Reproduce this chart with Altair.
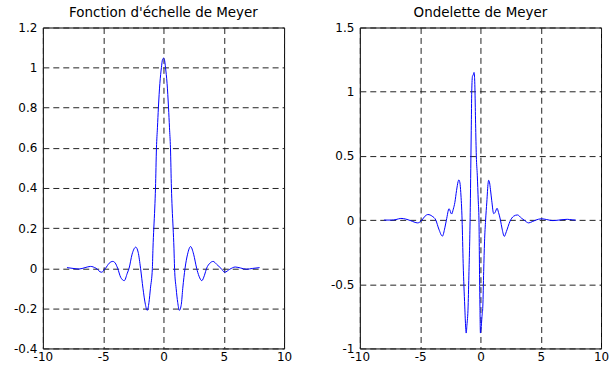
import altair as alt
import pandas as pd

# Meyer scaling function
phi_x = [-8.0, -7.5, -7.0, -6.5, -6.05, -5.6, -5.15, -4.8, -4.5, -4.2, -4.0, -3.8, -3.55, -3.25,
         -3.0, -2.85, -2.6, -2.3, -2.1, -1.9, -1.7, -1.5, -1.35, -1.2, -1.08, -0.92, -0.87, -0.8,
         -0.72, -0.66, -0.58, -0.5, -0.42, -0.3, -0.17, -0.08, 0.0, 0.08, 0.17, 0.3, 0.42, 0.5,
         0.58, 0.66, 0.72, 0.8, 0.87, 0.92, 1.05, 1.18, 1.32, 1.48, 1.6, 1.79, 2.0, 2.25, 2.5,
         2.75, 2.95, 3.18, 3.4, 3.58, 3.85, 4.12, 4.4, 4.76, 5.08, 5.5, 5.95, 6.4, 6.87, 7.4, 7.97]
phi_y = [0.003, -0.001, -0.004, 0.003, 0.009, 0.0, -0.02, 0.0, 0.025, 0.034, 0.026, 0.0, -0.045, -0.062,
         -0.025, 0.0, 0.07, 0.105, 0.08, 0.0, -0.1, -0.18, -0.21, -0.17, -0.1, 0.0, 0.1, 0.2,
         0.3, 0.4, 0.6, 0.7, 0.8, 0.92, 1.0, 1.04, 1.047, 1.04, 1.0, 0.92, 0.8, 0.7,
         0.6, 0.4, 0.3, 0.2, 0.1, 0.0, -0.1, -0.17, -0.21, -0.18, -0.1, 0.0, 0.07, 0.108, 0.07,
         0.0, -0.04, -0.062, -0.035, 0.0, 0.025, 0.034, 0.02, 0.0, -0.02, -0.005, 0.006, 0.001, -0.005, -0.001, 0.003]

# Meyer wavelet
psi_x = [-8.0, -7.4, -7.0, -6.6, -6.2, -5.8, -5.2, -4.85, -4.6, -4.35, -4.0, -3.7, -3.45, -3.15,
         -2.95, -2.82, -2.6, -2.39, -2.25, -2.12, -1.98, -1.85, -1.79, -1.7, -1.63, -1.52, -1.43,
         -1.3, -1.22, -1.18, -1.12, -1.02, -0.95, -0.89, -0.84, -0.8, -0.76, -0.72, -0.66, -0.6,
         -0.53, -0.48, -0.45, -0.4, -0.34, -0.26, -0.18, -0.12, -0.07, -0.04, 0.0, 0.05, 0.13,
         0.2, 0.27, 0.34, 0.43, 0.53, 0.64, 0.68, 0.76, 0.83, 0.94, 1.1, 1.22, 1.38, 1.5, 1.66,
         1.8, 1.98, 2.15, 2.45, 2.75, 3.07, 3.4, 3.62, 4.0, 4.3, 4.6, 5.05, 5.5, 6.0, 6.5, 7.2, 7.6, 7.9]
psi_y = [0.0, 0.0, 0.004, 0.013, 0.008, -0.004, -0.022, 0.0, 0.03, 0.043, 0.03, 0.0, -0.07, -0.125,
         -0.06, 0.0, 0.088, 0.047, 0.085, 0.137, 0.23, 0.3, 0.313, 0.29, 0.215, 0.0, -0.34,
         -0.67, -0.84, -0.88, -0.82, -0.67, -0.4, -0.17, 0.1, 0.4, 0.7, 1.0, 1.12, 1.13,
         1.15, 1.1, 1.0, 0.75, 0.5, 0.35, 0.15, 0.0, -0.45, -0.67, -0.88, -0.85, -0.75,
         -0.67, -0.4, -0.17, 0.0, 0.14, 0.29, 0.31, 0.29, 0.24, 0.15, 0.05, 0.06, 0.092, 0.06, 0.0,
         -0.07, -0.127, -0.09, -0.01, 0.03, 0.04, 0.015, 0.0, -0.022, -0.012, 0.0, 0.01, 0.004, -0.004, 0.0, 0.006, 0.002, 0.0]

x_ticks = [-10, -5, 0, 5, 10]
phi_ticks = [-0.4, -0.2, 0, 0.2, 0.4, 0.6, 0.8, 1, 1.2]
psi_ticks = [-1, -0.5, 0, 0.5, 1, 1.5]

titles = ["Fonction d'échelle de Meyer", "Ondelette de Meyer"]

FONT = "DejaVu Sans"


def panel(xs, ys, title, ydom, yticks):
    df = pd.DataFrame({"x": xs, "y": ys})
    axis_common = dict(
        title=None, domain=False, ticks=False, grid=True,
        gridColor="#222222", gridDash=[6, 4], gridWidth=1, gridOpacity=1,
        labelFont=FONT, labelFontSize=12, labelColor="black",
        labelFlush=False, labelOverlap=False,
        labelExpr="'' + datum.value",
    )
    return alt.Chart(df).mark_line(color="#0000ff", strokeWidth=1, interpolate="monotone").encode(
        x=alt.X("x:Q", scale=alt.Scale(domain=[-10, 10], nice=False, zero=False),
                axis=alt.Axis(values=x_ticks, labelPadding=3, **axis_common)),
        y=alt.Y("y:Q", scale=alt.Scale(domain=ydom, nice=False, zero=False),
                axis=alt.Axis(values=yticks, labelPadding=6, **axis_common)),
    ).properties(
        width=242, height=322,
        title=alt.TitleParams(title, font=FONT, fontSize=13.5, fontWeight="normal",
                              color="black", offset=2, anchor="middle"),
    )


left = panel(phi_x, phi_y, titles[0], [-0.4, 1.2], phi_ticks)
right = panel(psi_x, psi_y, titles[1], [-1, 1.5], psi_ticks)

chart = alt.hconcat(left, right, spacing=76, bounds="flush").properties(
    padding={"left": 13, "top": 5, "right": 0, "bottom": 0},
    background="white",
).configure_view(stroke="black", strokeWidth=1)

chart.save("out.html", embed_options={"renderer": "svg", "actions": False})
